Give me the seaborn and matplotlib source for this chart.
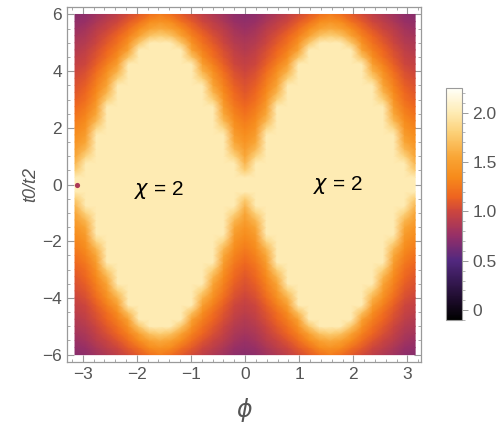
import numpy as np
import matplotlib
matplotlib.use("Agg")
import matplotlib.pyplot as plt
from matplotlib.colors import LinearSegmentedColormap, Normalize
from matplotlib.ticker import MultipleLocator
import seaborn as sns

# one quadrant of the map
# (the full map repeats it mirrored in phi and in t0/t2)
phi_q = np.array([0, 1, 2, 3, 4, 5, 6, 7, 8]) * np.pi / 16
t_q = [0.0, 0.25, 0.5, 0.75, 1.0, 1.25, 1.5, 1.75, 2.0, 2.25, 2.5, 2.75, 3.0,
       3.25, 3.5, 3.75, 4.0, 4.25, 4.5, 4.75, 5.0, 5.25, 5.5, 5.75, 6.0]
chi_q = [
    [2.00, 2.00, 2.00, 2.00, 2.00, 2.00, 2.00, 2.00, 2.00],
    [2.00, 2.00, 2.00, 2.00, 2.00, 2.00, 2.00, 2.00, 2.00],
    [1.78, 2.00, 2.00, 2.00, 2.00, 2.00, 2.00, 2.00, 2.00],
    [1.64, 2.00, 2.00, 2.00, 2.00, 2.00, 2.00, 2.00, 2.00],
    [1.55, 1.82, 2.00, 2.00, 2.00, 2.00, 2.00, 2.00, 2.00],
    [1.48, 1.66, 2.00, 2.00, 2.00, 2.00, 2.00, 2.00, 2.00],
    [1.42, 1.56, 2.00, 2.00, 2.00, 2.00, 2.00, 2.00, 2.00],
    [1.37, 1.48, 2.00, 2.00, 2.00, 2.00, 2.00, 2.00, 2.00],
    [1.32, 1.42, 1.84, 2.00, 2.00, 2.00, 2.00, 2.00, 2.00],
    [1.27, 1.36, 1.66, 2.00, 2.00, 2.00, 2.00, 2.00, 2.00],
    [1.22, 1.31, 1.56, 2.00, 2.00, 2.00, 2.00, 2.00, 2.00],
    [1.17, 1.26, 1.48, 2.00, 2.00, 2.00, 2.00, 2.00, 2.00],
    [1.13, 1.21, 1.41, 1.80, 2.00, 2.00, 2.00, 2.00, 2.00],
    [1.09, 1.17, 1.35, 1.64, 2.00, 2.00, 2.00, 2.00, 2.00],
    [1.06, 1.13, 1.30, 1.54, 2.00, 2.00, 2.00, 2.00, 2.00],
    [1.03, 1.09, 1.25, 1.46, 1.80, 2.00, 2.00, 2.00, 2.00],
    [1.00, 1.05, 1.19, 1.38, 1.62, 2.00, 2.00, 2.00, 2.00],
    [0.96, 1.01, 1.13, 1.29, 1.50, 2.00, 2.00, 2.00, 2.00],
    [0.93, 0.98, 1.08, 1.21, 1.37, 1.72, 2.00, 2.00, 2.00],
    [0.89, 0.94, 1.04, 1.15, 1.29, 1.52, 2.00, 2.00, 2.00],
    [0.86, 0.90, 1.00, 1.10, 1.22, 1.40, 1.74, 2.00, 2.00],
    [0.82, 0.86, 0.96, 1.05, 1.15, 1.30, 1.52, 1.72, 1.80],
    [0.78, 0.82, 0.91, 0.99, 1.08, 1.20, 1.36, 1.52, 1.58],
    [0.74, 0.77, 0.85, 0.93, 1.01, 1.11, 1.22, 1.36, 1.42],
    [0.70, 0.73, 0.80, 0.87, 0.94, 1.02, 1.11, 1.21, 1.28],
]

# the small dark spot on the left edge
spot_phi = [-3.11]
spot_t = [0.0]
spot_val = [0.85]

labels_text = ["$\\chi$ = 2", "$\\chi$ = 2"]
labels_phi = [-1.6, 1.72]
labels_t = [-0.2, 0.0]

# build the full grid by mirroring the quadrant
q = np.array(chi_q)
right = np.hstack([q, q[:, -2::-1]])
full = np.hstack([right[:, :0:-1], right])
full = np.vstack([full[:0:-1], full])
phi_r = np.concatenate([phi_q, np.pi - phi_q[-2::-1]])
phi_full = np.concatenate([-phi_r[:0:-1], phi_r])
t_arr = np.array(t_q)
t_full = np.concatenate([-t_arr[:0:-1], t_arr])

sns.set_style("ticks")
plt.rcParams["font.family"] = ["Liberation Sans", "DejaVu Sans"]

stops = [(-0.10, "#000000"), (0.10, "#1c0b2a"), (0.50, "#52287f"),
         (0.75, "#952f68"), (1.00, "#cc453e"), (1.15, "#ee6420"),
         (1.35, "#f78b1b"), (1.55, "#f9a535"), (1.80, "#fcd077"),
         (2.00, "#feebb3"), (2.25, "#fffff8")]
vmin, vmax = -0.10, 2.25
cmap = LinearSegmentedColormap.from_list(
    "sunset", [((v - vmin) / (vmax - vmin), c) for v, c in stops])
norm = Normalize(vmin=vmin, vmax=vmax)

gray = "#9a9a9a"
label_gray = "#555555"

fig = plt.figure(figsize=(5.0, 4.23), dpi=100)
ax = fig.add_axes([0.134, 0.1442, 0.708, 0.839])
mesh = ax.pcolormesh(phi_full, t_full, full, shading="gouraud",
                     cmap=cmap, norm=norm, rasterized=True)
ax.scatter(spot_phi, spot_t, c=spot_val, cmap=cmap, norm=norm,
           s=14, marker="o", linewidths=0, zorder=3)

for txt, x, y in zip(labels_text, labels_phi, labels_t):
    ax.text(x, y, txt, fontsize=15, ha="center", va="center", color="black")

ax.set_xlim(-3.29, 3.25)
ax.set_ylim(-6.26, 6.26)
ax.xaxis.set_major_locator(MultipleLocator(1))
ax.xaxis.set_minor_locator(MultipleLocator(0.2))
ax.yaxis.set_major_locator(MultipleLocator(2))
ax.yaxis.set_minor_locator(MultipleLocator(0.5))
ax.tick_params(which="both", direction="in", top=True, right=True,
               color=gray, labelcolor=label_gray, labelsize=12.5)
ax.tick_params(which="major", length=5, width=0.8)
ax.tick_params(which="minor", length=2.5, width=0.6)
for s in ax.spines.values():
    s.set_color(gray)
    s.set_linewidth(0.9)

ax.set_xlabel("$\\phi$", fontsize=17, color=label_gray, labelpad=10)
ax.set_ylabel("t0/t2", fontsize=13, color=label_gray, style="italic", labelpad=2)

cax = fig.add_axes([0.892, 0.2435, 0.032, 0.5485])
cb = fig.colorbar(mesh, cax=cax)
cb.set_ticks([0, 0.5, 1.0, 1.5, 2.0])
cb.set_ticklabels(["0", "0.5", "1.0", "1.5", "2.0"])
cb.ax.yaxis.set_minor_locator(MultipleLocator(0.1))
cb.ax.tick_params(which="both", direction="out", color=gray,
                  labelcolor=label_gray, labelsize=12.5)
cb.ax.tick_params(which="major", length=4, width=0.7)
cb.ax.tick_params(which="minor", length=2, width=0.5)
cb.outline.set_edgecolor(gray)
cb.outline.set_linewidth(0.8)

fig.savefig("out.png", dpi=100)
